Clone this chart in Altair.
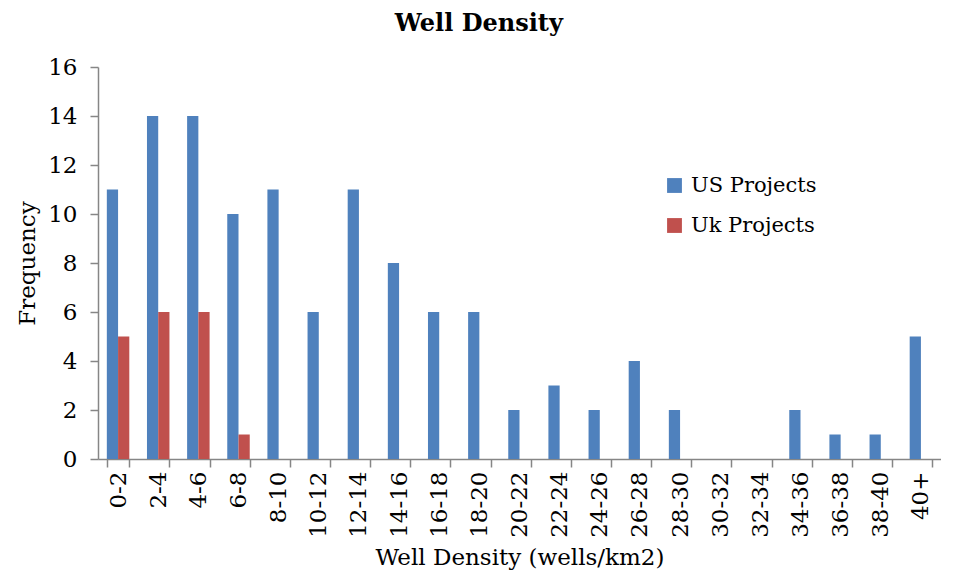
import altair as alt
import pandas as pd

categories = ["0-2", "2-4", "4-6", "6-8", "8-10", "10-12", "12-14", "14-16", "16-18",
              "18-20", "20-22", "22-24", "24-26", "26-28", "28-30", "30-32", "32-34",
              "34-36", "36-38", "38-40", "40+"]
us_values = [11, 14, 14, 10, 11, 6, 11, 8, 6, 6, 2, 3, 2, 4, 2, 0, 0, 2, 1, 1, 5]
uk_values = [5, 6, 6, 1, None, None, None, None, None, None, None, None, None, None,
             None, None, None, None, None, None, None]
series = ["US Projects", "Uk Projects"]
colors = ["#4F81BD", "#C0504D"]
y_ticks = [0, 2, 4, 6, 8, 10, 12, 14, 16]

rows = []
for c, u, k in zip(categories, us_values, uk_values):
    if u is not None:
        rows.append({"bin": c, "series": series[0], "freq": u})
    if k is not None:
        rows.append({"bin": c, "series": series[1], "freq": k})
df = pd.DataFrame(rows)

FONT = "DejaVu Serif"
GRAY = "#868686"

chart = alt.Chart(df).mark_bar().encode(
    x=alt.X("bin:N", sort=categories,
            scale=alt.Scale(domain=categories, paddingInner=0.44, paddingOuter=0.22),
            axis=alt.Axis(title="Well Density (wells/km2)", labelAngle=-90,
                          labelAlign="right", labelBaseline="middle",
                          tickBand="extent", tickSize=8, labelPadding=4,
                          titlePadding=9)),
    xOffset=alt.XOffset("series:N", sort=series, scale=alt.Scale(domain=series)),
    y=alt.Y("freq:Q", stack=None,
            scale=alt.Scale(domain=[0, 16], nice=False),
            axis=alt.Axis(title="Frequency", values=y_ticks, tickSize=8,
                          labelPadding=13, titlePadding=8, grid=False)),
    color=alt.Color("series:N", sort=series,
                    scale=alt.Scale(domain=series, range=colors),
                    legend=alt.Legend(title=None, orient="none", legendX=566, legendY=108,
                                      symbolType="square", symbolSize=220,
                                      symbolStrokeWidth=0,
                                      labelFontSize=21, labelFont=FONT,
                                      rowPadding=18, labelOffset=6)),
).properties(
    width=843, height=392,
    title=alt.TitleParams("Well Density", fontSize=24, font=FONT, fontWeight="bold",
                          anchor="middle", frame="bounds", offset=20),
    padding={"left": 8, "top": 4, "right": 0, "bottom": 0},
).configure_view(stroke=None).configure_axis(
    labelFont=FONT, titleFont=FONT, labelFontSize=23, titleFontSize=23,
    titleFontWeight="normal", labelColor="black", titleColor="black",
    domainColor=GRAY, tickColor=GRAY, domainWidth=1.5, tickWidth=1.5,
)

chart.save("out.html", embed_options={"renderer": "svg", "actions": False})
